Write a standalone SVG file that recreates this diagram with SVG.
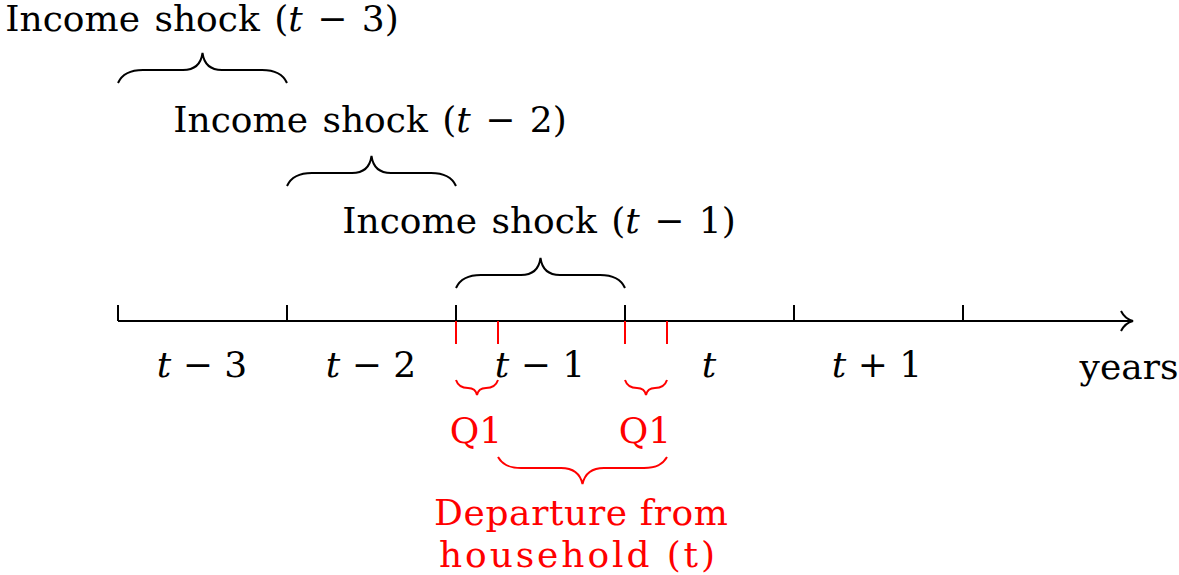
<svg xmlns="http://www.w3.org/2000/svg" width="1179" height="575" viewBox="0 0 1179 575">
<style>
text{font-family:"DejaVu Serif","Liberation Serif",serif;font-size:36px;text-anchor:middle}
.i{font-style:italic}
.w{word-spacing:3px}
.r{fill:#ff0000}
.ln{fill:none;stroke:#000;stroke-width:2}
.rl{fill:none;stroke:#ff0000;stroke-width:2}
</style>
<rect width="1179" height="575" fill="#fff"/>
<g id="connectors">
<path class="ln" d="M118,321 H1132"/>
<path class="ln" d="M1121,311 Q1125,319 1133,321 Q1125,323 1121,331"/>
<path class="ln" d="M118,305 V321 M287,305 V321 M456,305 V321 M625,305 V321 M794,305 V321 M963,305 V321"/>
<path class="rl" d="M456,321 V344 M498,321 V344 M625,321 V344 M667,321 V344"/>
</g>
<g id="shock3">
<path class="ln" d="M118,83 C122,74 130,70 143,70 L183,70 C195,70 201,64 202.5,53 C204,64 210,70 222,70 L262,70 C275,70 283,74 287,83"/>
<text class="w" x="202" y="31">Income shock (<tspan class="i">t</tspan> − 3)</text>
</g>
<g id="shock2">
<path class="ln" d="M287,186 C291,177 299,173 312,173 L352,173 C364,173 370,167 371.5,156 C373,167 379,173 391,173 L431,173 C444,173 452,177 456,186"/>
<text class="w" x="370" y="132">Income shock (<tspan class="i">t</tspan> − 2)</text>
</g>
<g id="shock1">
<path class="ln" d="M456,288 C460,279 468,275 481,275 L521,275 C533,275 539,269 540.5,258 C542,269 548,275 560,275 L600,275 C613,275 621,279 625,288"/>
<text class="w" x="539" y="233">Income shock (<tspan class="i">t</tspan> − 1)</text>
</g>
<g id="labels">
<text x="202" y="377"><tspan class="i">t</tspan> − 3</text>
<text x="371" y="377"><tspan class="i">t</tspan> − 2</text>
<text x="540" y="377"><tspan class="i">t</tspan> − 1</text>
<text x="709" y="377" class="i">t</text>
<text x="877" y="377"><tspan class="i">t</tspan> + 1</text>
<text x="1129" y="379">years</text>
</g>
<g id="q1a">
<path class="rl" d="M456,380 C458,386 462,388 468,388 C473,388 476,390 477,395 C478,390 481,388 486,388 C492,388 496,386 498,380"/>
<text class="r" x="476" y="443">Q1</text>
</g>
<g id="q1b">
<path class="rl" d="M625,380 C627,386 631,388 637,388 C642,388 645,390 646,395 C647,390 650,388 655,388 C661,388 665,386 667,380"/>
<text class="r" x="645" y="443">Q1</text>
</g>
<g id="departure">
<path class="rl" d="M498,457 C502,464 508,468 521,468 L561,468 C573,468 580,473 582.5,484 C585,473 592,468 604,468 L644,468 C657,468 663,464 667,457"/>
<text class="r" x="581" y="525" textLength="294" lengthAdjust="spacing">Departure from</text>
<text class="r" x="577" y="567" textLength="276" lengthAdjust="spacing">household (t)</text>
</g>
</svg>
